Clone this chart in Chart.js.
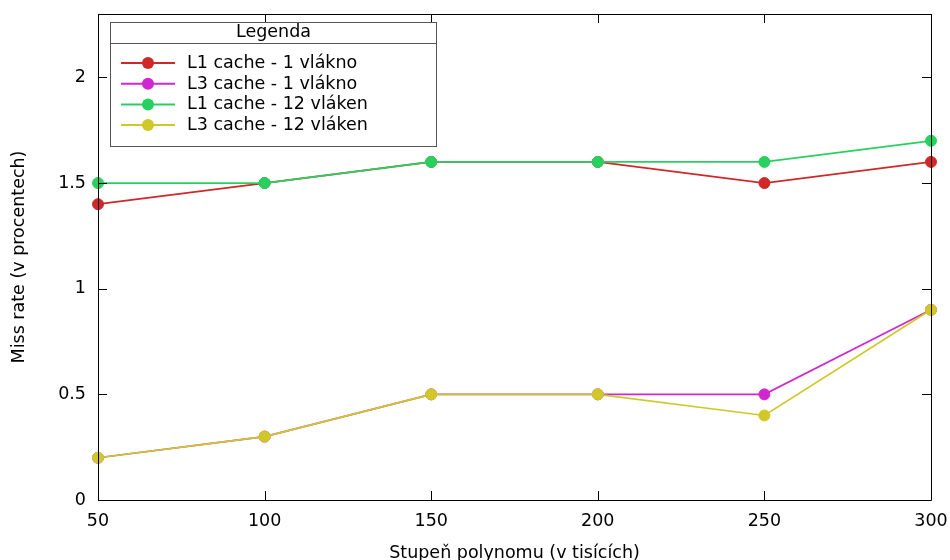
<!DOCTYPE html>
<html>
<head>
<meta charset="utf-8">
<title>Miss rate</title>
<script src="https://cdn.jsdelivr.net/npm/chart.js@4.4.1/dist/chart.umd.min.js"></script>
<style>
  html, body { margin: 0; padding: 0; background: #fff; }
  canvas { display: block; }
</style>
</head>
<body>
<canvas id="graf" width="950" height="560"></canvas>
<script>
//Stupen polynomu (v tisicich)
var stupne = [50, 100, 150, 200, 250, 300];

//Namerene hodnoty miss rate v procentech
var l1Jedno = [1.4, 1.5, 1.6, 1.6, 1.5, 1.6];
var l3Jedno = [0.2, 0.3, 0.5, 0.5, 0.5, 0.9];
var l1Dvanact = [1.5, 1.5, 1.6, 1.6, 1.6, 1.7];
var l3Dvanact = [0.2, 0.3, 0.5, 0.5, 0.4, 0.9];

var nazvy = ['L1 cache - 1 vlákno', 'L3 cache - 1 vlákno', 'L1 cache - 12 vláken', 'L3 cache - 12 vláken'];
var barvy = ['#d02828', '#d028d0', '#28d060', '#d0c828'];
var yTicks = [0, 0.5, 1, 1.5, 2];

var pismo = '"DejaVu Sans", sans-serif';
var velikost = 17.5;

//Prevod na body {x, y}
function body(hodnoty) {
  return hodnoty.map(function(v, i) { return { x: stupne[i], y: v }; });
}

function serie(idx, hodnoty) {
  return {
    label: nazvy[idx],
    data: body(hodnoty),
    borderColor: barvy[idx],
    backgroundColor: barvy[idx],
    pointBackgroundColor: barvy[idx],
    pointBorderColor: barvy[idx],
    pointBorderWidth: 1,
    pointRadius: 5.5,
    borderWidth: 1.7,
    tension: 0,
    clip: false,
    order: 4 - idx
  };
}

//Ramecek kolem grafu s tiky dovnitr (jako v gnuplotu)
var ramecek = {
  id: 'ramecek',
  afterDatasetsDraw: function(chart) {
    var ctx = chart.ctx;
    var a = chart.chartArea;
    var sx = chart.scales.x, sy = chart.scales.y;
    var delka = 9;
    ctx.save();
    ctx.strokeStyle = '#000';
    ctx.lineWidth = 1;
    ctx.beginPath();
    ctx.rect(a.left + 0.5, a.top + 0.5, a.right - a.left, a.bottom - a.top);
    stupne.forEach(function(v) {
      var px = Math.round(sx.getPixelForValue(v)) + 0.5;
      ctx.moveTo(px, a.bottom); ctx.lineTo(px, a.bottom - delka);
      ctx.moveTo(px, a.top); ctx.lineTo(px, a.top + delka);
    });
    yTicks.forEach(function(v) {
      var py = Math.round(sy.getPixelForValue(v)) + 0.5;
      ctx.moveTo(a.left, py); ctx.lineTo(a.left + delka, py);
      ctx.moveTo(a.right, py); ctx.lineTo(a.right - delka, py);
    });
    ctx.stroke();
    ctx.restore();
  }
};

//Legenda s nadpisem uvnitr grafu
var legenda = {
  id: 'legenda',
  afterDraw: function(chart) {
    var ctx = chart.ctx;
    var x0 = 110.5, y0 = 22.5, w = 326, h = 124;
    ctx.save();
    ctx.fillStyle = '#fff';
    ctx.fillRect(x0, y0, w, h);
    ctx.strokeStyle = '#555';
    ctx.lineWidth = 1;
    ctx.strokeRect(x0, y0, w, h);
    ctx.beginPath();
    ctx.moveTo(x0, 43.5); ctx.lineTo(x0 + w, 43.5);
    ctx.stroke();

    ctx.font = velikost + 'px ' + pismo;
    ctx.fillStyle = '#000';
    ctx.textBaseline = 'middle';
    ctx.textAlign = 'center';
    ctx.fillText('Legenda', x0 + w / 2, 32.5);

    ctx.textAlign = 'left';
    chart.data.datasets.forEach(function(ds, i) {
      var y = 63 + i * 20.7;
      ctx.strokeStyle = ds.borderColor;
      ctx.lineWidth = 2;
      ctx.beginPath();
      ctx.moveTo(121, y); ctx.lineTo(175, y);
      ctx.stroke();
      ctx.fillStyle = ds.borderColor;
      ctx.beginPath();
      ctx.arc(148, y, 6, 0, Math.PI * 2);
      ctx.fill();
      ctx.fillStyle = '#000';
      ctx.fillText(ds.label, 187, y + 0.5);
    });
    ctx.restore();
  }
};

var graf = new Chart(document.getElementById('graf'), {
  type: 'line',
  data: {
    datasets: [
      serie(0, l1Jedno),
      serie(1, l3Jedno),
      serie(2, l1Dvanact),
      serie(3, l3Dvanact)
    ]
  },
  options: {
    responsive: false,
    animation: false,
    layout: { padding: { left: 0, right: 19, top: 14, bottom: 0 } },
    plugins: {
      legend: { display: false },
      tooltip: { enabled: false }
    },
    scales: {
      x: {
        type: 'linear',
        min: 50,
        max: 300,
        border: { display: false },
        grid: { display: false, drawTicks: false },
        afterBuildTicks: function(scale) {
          scale.ticks = stupne.map(function(v) { return { value: v }; });
        },
        //pevna vyska osy, bez automatickeho odsazeni kvuli popiskum
        afterFit: function(scale) {
          scale.height = 60;
          scale.paddingLeft = 0;
          scale.paddingRight = 0;
        },
        ticks: {
          color: '#000',
          padding: 11,
          maxRotation: 0,
          font: { family: pismo, size: velikost }
        },
        title: {
          display: true,
          text: 'Stupeň polynomu (v tisících)',
          color: '#000',
          padding: 0,
          font: { family: pismo, size: velikost, lineHeight: 0.8 }
        }
      },
      y: {
        type: 'linear',
        min: 0,
        max: 2.3,
        border: { display: false },
        grid: { display: false, drawTicks: false },
        afterBuildTicks: function(scale) {
          scale.ticks = yTicks.map(function(v) { return { value: v }; });
        },
        afterFit: function(scale) {
          scale.width = 98;
          scale.paddingTop = 0;
          scale.paddingBottom = 0;
        },
        ticks: {
          color: '#000',
          padding: 12,
          font: { family: pismo, size: velikost },
          callback: function(v) { return String(v); }
        },
        title: {
          display: true,
          text: 'Miss rate (v procentech)',
          color: '#000',
          padding: { top: 11, bottom: 0 },
          font: { family: pismo, size: velikost, lineHeight: 1 }
        }
      }
    }
  },
  plugins: [ramecek, legenda]
});
</script>
</body>
</html>
